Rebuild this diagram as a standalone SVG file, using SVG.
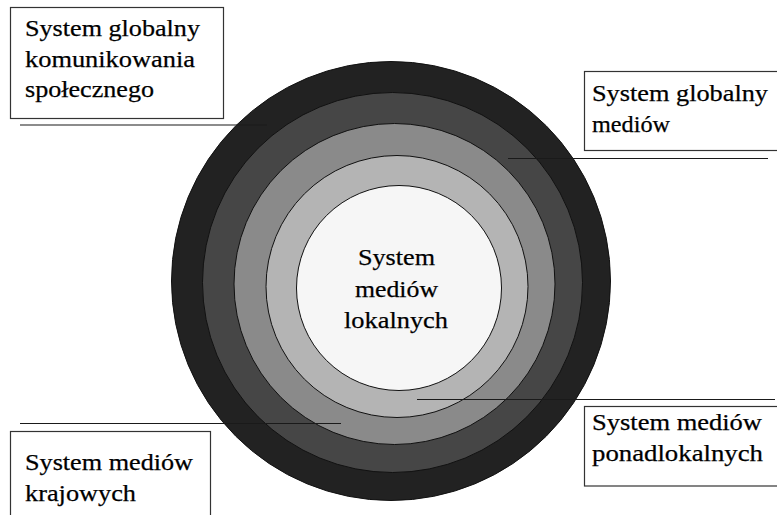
<svg xmlns="http://www.w3.org/2000/svg" width="777" height="515" viewBox="0 0 777 515">
<style>
  .ring { stroke: #111; stroke-width: 1; }
  .box { fill: #fff; stroke: #333; stroke-width: 1.2; }
  .ctr { text-anchor: middle; }
  .conn { stroke: #1a1a1a; stroke-width: 1.2; fill: none; }
</style>
<rect width="777" height="515" fill="#fff"/>
<g id="rings">
  <circle class="ring" cx="391" cy="281" r="219.5" fill="#222222"/>
  <circle class="ring" cx="392.5" cy="282.5" r="190" fill="#464646"/>
  <circle class="ring" cx="394.5" cy="284" r="160.5" fill="#8a8a8a"/>
  <circle class="ring" cx="397" cy="286.5" r="131" fill="#b4b4b4"/>
</g>
<g id="connectors">
  <line class="conn" x1="20" y1="125" x2="267" y2="125"/>
  <line class="conn" x1="508" y1="158.5" x2="768" y2="158.5"/>
  <line class="conn" x1="20" y1="423.5" x2="341" y2="423.5"/>
  <line class="conn" x1="417" y1="399.5" x2="775" y2="399.5"/>
</g>
<g font-family="Liberation Serif, Times New Roman, serif" font-size="24" fill="#000" stroke="#000" stroke-width="0.25">
<g id="node-local">
  <circle class="ring" cx="399" cy="288" r="102.5" fill="#f6f6f6"/>
  <text class="ctr" x="396.5" y="265" textLength="77" lengthAdjust="spacingAndGlyphs">System</text>
  <text class="ctr" x="396.5" y="297" textLength="83" lengthAdjust="spacingAndGlyphs">mediów</text>
  <text class="ctr" x="396" y="328" textLength="104" lengthAdjust="spacingAndGlyphs">lokalnych</text>
</g>
<g id="node-global-comm">
  <rect class="box" x="10.5" y="7.5" width="213" height="111"/>
  <text x="25" y="36" textLength="175" lengthAdjust="spacingAndGlyphs">System globalny</text>
  <text x="25" y="66.5" textLength="170" lengthAdjust="spacingAndGlyphs">komunikowania</text>
  <text x="25" y="97" textLength="129" lengthAdjust="spacingAndGlyphs">społecznego</text>
</g>
<g id="node-global-media">
  <rect class="box" x="584.5" y="71.5" width="200" height="79"/>
  <text x="592" y="101" textLength="176" lengthAdjust="spacingAndGlyphs">System globalny</text>
  <text x="592" y="132" textLength="78" lengthAdjust="spacingAndGlyphs">mediów</text>
</g>
<g id="node-national">
  <rect class="box" x="10.5" y="431.5" width="200" height="100"/>
  <text x="25" y="470" textLength="168" lengthAdjust="spacingAndGlyphs">System mediów</text>
  <text x="25" y="501" textLength="111" lengthAdjust="spacingAndGlyphs">krajowych</text>
</g>
<g id="node-supralocal">
  <rect class="box" x="584.5" y="406.5" width="200" height="79.5"/>
  <text x="592" y="430" textLength="170" lengthAdjust="spacingAndGlyphs">System mediów</text>
  <text x="592" y="461" textLength="171" lengthAdjust="spacingAndGlyphs">ponadlokalnych</text>
</g>
</g>
</svg>
